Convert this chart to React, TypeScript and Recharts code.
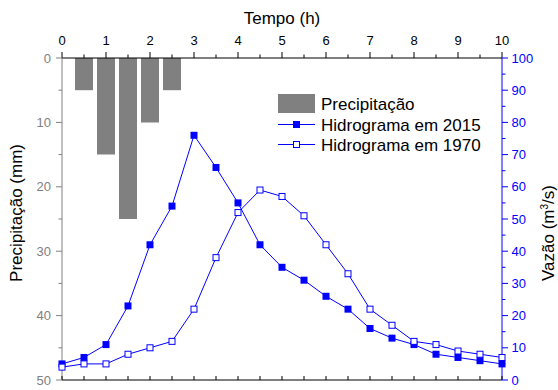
import { ComposedChart, Bar, Line, XAxis, YAxis, Legend } from "recharts";

// Tempo em horas (passo de 0,5 h), precipitação e dois hidrogramas

const horas = [0, 0.5, 1, 1.5, 2, 2.5, 3, 3.5, 4, 4.5, 5, 5.5, 6, 6.5, 7, 7.5, 8, 8.5, 9, 9.5, 10];
const horasChuva = [0.5, 1, 1.5, 2, 2.5];
const precipitacaoMm = [5, 15, 25, 10, 5];
const vazao2015 = [5, 7, 11, 23, 42, 54, 76, 66, 55, 42, 35, 31, 26, 22, 16, 13, 11, 8, 7, 6, 5];
const vazao1970 = [4, 5, 5, 8, 10, 12, 22, 38, 52, 59, 57, 51, 42, 33, 22, 17, 12, 11, 9, 8, 7];

const ticksTempo = [0, 0.5, 1, 1.5, 2, 2.5, 3, 3.5, 4, 4.5, 5, 5.5, 6, 6.5, 7, 7.5, 8, 8.5, 9, 9.5, 10];
const ticksPrecip = [0, 5, 10, 15, 20, 25, 30, 35, 40, 45, 50];
const ticksVazao = [0, 5, 10, 15, 20, 25, 30, 35, 40, 45, 50, 55, 60, 65, 70, 75, 80, 85, 90, 95, 100];

const data = horas.map((t, i) => {
  const k = horasChuva.indexOf(t);
  return { t, chuva: k >= 0 ? precipitacaoMm[k] : null, q2015: vazao2015[i], q1970: vazao1970[i] };
});

const FONT = "'Liberation Sans', Arial, sans-serif";
const BLUE = "#0000ff";
const GRAY = "#808080";

type TickProps = { x?: number; y?: number; payload?: { value: number } };

function TopTick({ x = 0, y = 0, payload }: TickProps) {
  const v = payload?.value ?? 0;
  const major = Number.isInteger(v);
  return (
    <g>
      <line x1={x} x2={x} y1={y} y2={y - (major ? 6 : 3.5)} stroke="#000" />
      {major && (
        <text x={x} y={y - 13.5} textAnchor="middle" fontSize={13} fill="#000" fontFamily={FONT}>{v}</text>
      )}
    </g>
  );
}

function BottomTick({ x = 0, y = 0 }: TickProps) {
  return <line x1={x} x2={x} y1={y} y2={y - 4} stroke="#000" />;
}

function LeftTick({ x = 0, y = 0, payload }: TickProps) {
  const v = payload?.value ?? 0;
  const major = v % 10 === 0;
  return (
    <g>
      <line x1={x} x2={x - (major ? 6 : 3.5)} y1={y} y2={y} stroke={GRAY} />
      {major && (
        <text x={x - 11} y={y + 4.5} textAnchor="end" fontSize={13} fill={GRAY} fontFamily={FONT}>{v}</text>
      )}
    </g>
  );
}

function RightTick({ x = 0, y = 0, payload }: TickProps) {
  const v = payload?.value ?? 0;
  const major = v % 10 === 0;
  return (
    <g>
      <line x1={x} x2={x + (major ? 6 : 3.5)} y1={y} y2={y} stroke={BLUE} />
      {major && (
        <text x={x + 9.5} y={y + 4.5} textAnchor="start" fontSize={13} fill={BLUE} fontFamily={FONT}>{v}</text>
      )}
    </g>
  );
}

const FilledSquare = (p: any) => (
  <rect key={`f${p.index}`} x={p.cx - 3.5} y={p.cy - 3.5} width={7} height={7} fill={BLUE} />
);
const OpenSquare = (p: any) => (
  <rect key={`o${p.index}`} x={p.cx - 3} y={p.cy - 3} width={6} height={6} fill="#fff" stroke={BLUE} strokeWidth={1} />
);

function Legenda() {
  return (
    <svg width={240} height={64} style={{ display: "block" }}>
      <rect x={0} y={4} width={37} height={19} fill={GRAY} />
      <text x={43} y={19.5} fontSize={17} fontFamily={FONT} fill="#000">Precipitação</text>
      <line x1={0} x2={37} y1={34.5} y2={34.5} stroke={BLUE} />
      <rect x={15} y={31} width={7} height={7} fill={BLUE} />
      <text x={43} y={40.5} fontSize={17} fontFamily={FONT} fill="#000">Hidrograma em 2015</text>
      <line x1={0} x2={37} y1={54.5} y2={54.5} stroke={BLUE} />
      <rect x={15.5} y={51.5} width={6} height={6} fill="#fff" stroke={BLUE} />
      <text x={43} y={60.5} fontSize={17} fontFamily={FONT} fill="#000">Hidrograma em 1970</text>
    </svg>
  );
}

export default function App() {
  return (
    <div style={{ position: "absolute", left: 0, top: 0, width: 558, height: 390, background: "#fff" }}>
      <ComposedChart width={558} height={390} data={data} margin={{ top: 0, right: 0, bottom: 0, left: 0 }}>
        <XAxis xAxisId="top" orientation="top" dataKey="t" type="number" domain={[0, 10]} ticks={ticksTempo}
          interval={0} height={58} tickSize={0} tickMargin={0} tickLine={false} tick={<TopTick />}
          axisLine={{ stroke: "#000" }}
          label={(p: any) => (
            <text x={p.viewBox.x + p.viewBox.width / 2} y={24} textAnchor="middle" fontSize={17} fontFamily={FONT} fill="#000">Tempo (h)</text>
          )} />
        <XAxis xAxisId="bottom" orientation="bottom" dataKey="t" type="number" domain={[0, 10]} ticks={ticksTempo}
          interval={0} height={10} tickSize={0} tickMargin={0} tickLine={false} tick={<BottomTick />}
          axisLine={{ stroke: "#000" }} />
        <YAxis yAxisId="p" orientation="left" type="number" domain={[0, 50]} reversed ticks={ticksPrecip}
          interval={0} width={62} tickSize={0} tickMargin={0} tickLine={false} tick={<LeftTick />}
          axisLine={{ stroke: GRAY }}
          label={(p: any) => {
            const cy = p.viewBox.y + p.viewBox.height / 2 - 6;
            return (
              <text x={22} y={cy} transform={`rotate(-90, 22, ${cy})`} textAnchor="middle" fontSize={17} fontFamily={FONT} fill="#000">Precipitação (mm)</text>
            );
          }} />
        <YAxis yAxisId="q" orientation="right" type="number" domain={[0, 100]} ticks={ticksVazao}
          interval={0} width={56} tickSize={0} tickMargin={0} tickLine={false} tick={<RightTick />}
          axisLine={{ stroke: BLUE }}
          label={(p: any) => {
            const cy = p.viewBox.y + p.viewBox.height / 2 + 14;
            return (
              <text x={554} y={cy} transform={`rotate(-90, 554, ${cy})`} textAnchor="middle" fontSize={17} fontFamily={FONT} fill="#000">
                Vazão (m<tspan dy={-6} fontSize={10}>3</tspan><tspan dy={6}>/s)</tspan>
              </text>
            );
          }} />
        <Legend layout="vertical" align="center" verticalAlign="middle" content={<Legenda />}
          wrapperStyle={{ left: 278, top: 90, width: 240, height: 64 }} />
        <Bar xAxisId="top" yAxisId="p" dataKey="chuva" name="Precipitação" fill={GRAY} barSize={18} isAnimationActive={false} />
        <Line xAxisId="top" yAxisId="q" type="linear" dataKey="q2015" name="Hidrograma em 2015" stroke={BLUE}
          strokeWidth={1} dot={FilledSquare} activeDot={false} isAnimationActive={false} />
        <Line xAxisId="top" yAxisId="q" type="linear" dataKey="q1970" name="Hidrograma em 1970" stroke={BLUE}
          strokeWidth={1} dot={OpenSquare} activeDot={false} isAnimationActive={false} />
      </ComposedChart>
    </div>
  );
}
